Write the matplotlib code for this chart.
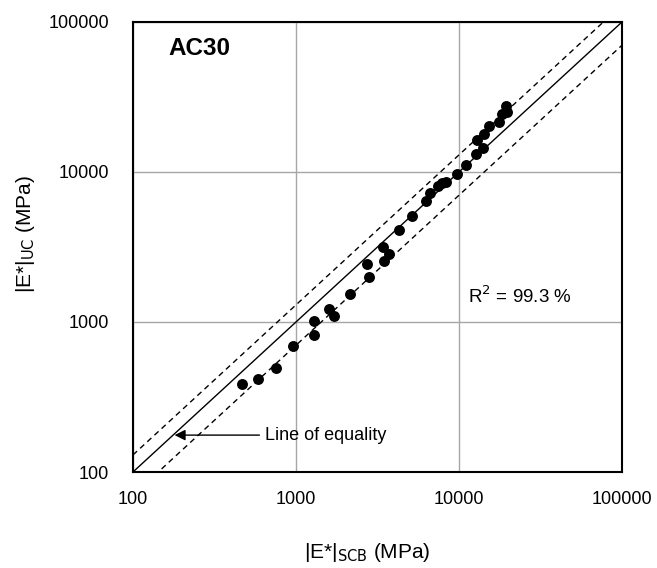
import matplotlib
matplotlib.use("Agg")
import matplotlib.pyplot as plt
import numpy as np

plt.rcParams['font.family'] = ['Liberation Sans Narrow', 'Liberation Sans', 'DejaVu Sans']

# Dynamic modulus: SCB-derived vs uniaxial compression (MPa)
e_scb = [468, 587, 754, 962, 1295, 1295, 1595, 1710, 2160, 2805, 2727, 3480,
         3736, 3432, 4302, 5171, 6248, 6641, 7403, 7834, 8287, 9763, 10990,
         12720, 14100, 12950, 14300, 15350, 17600, 18280, 19620, 19340]
e_uc = [386, 415, 491, 692, 815, 1016, 1221, 1102, 1537, 2004, 2425, 2551,
        2828, 3177, 4106, 5089, 6407, 7211, 8067, 8410, 8536, 9697, 11137,
        13183, 14521, 16345, 17839, 20350, 21640, 24250, 25235, 27540]

axis_ticks = [100, 1000, 10000, 100000]
tick_labels = ["100", "1000", "10000", "100000"]
band = 0.30          # +/- 30 % bounds around the line of equality
r2_text = "R$^2$ = 99.3 %"
mix_name = "AC30"

fig = plt.figure(figsize=(6.57, 5.68), dpi=100)
ax = fig.add_axes([0.2024, 0.169, 0.7443, 0.7923])

ax.set_xscale('log')
ax.set_yscale('log')
ax.set_xlim(100, 100000)
ax.set_ylim(100, 100000)

ax.set_xticks(axis_ticks)
ax.set_xticklabels(tick_labels)
ax.set_yticks(axis_ticks)
ax.set_yticklabels(tick_labels)
ax.minorticks_off()
ax.tick_params(length=0, labelsize=13)
ax.tick_params(axis='x', pad=14)
ax.tick_params(axis='y', pad=17)
ax.grid(True, color='#a6a6a6', linewidth=1.0)
ax.set_axisbelow(True)

for sp in ax.spines.values():
    sp.set_linewidth(1.5)
    sp.set_color('black')

line = np.array([100, 100000])
ax.plot(line, line, color='black', linewidth=1.0)
ax.plot(line, line * (1 + band), color='black', linewidth=1.0, linestyle=(0, (4, 3)))
ax.plot(line, line * (1 - band), color='black', linewidth=1.0, linestyle=(0, (4, 3)))

ax.scatter(e_scb, e_uc, s=62, color='black', zorder=3, linewidths=0)

ax.text(0.072, 0.94, mix_name, transform=ax.transAxes, fontsize=17.5,
        fontweight='bold', va='center', ha='left')
ax.text(0.685, 0.39, r2_text, transform=ax.transAxes, fontsize=13.5,
        va='center', ha='left')

ax.annotate("Line of equality", xy=(0.085, 0.082), xytext=(0.27, 0.082),
            xycoords='axes fraction', textcoords='axes fraction',
            fontsize=13, va='center', ha='left',
            arrowprops=dict(arrowstyle='-|>', color='black', lw=1.0,
                            mutation_scale=16, shrinkA=2, shrinkB=0))

ax.set_xlabel("|E*|$_{\\mathrm{SCB}}$ (MPa)", fontsize=15, va='center')
ax.set_ylabel("|E*|$_{\\mathrm{UC}}$ (MPa)", fontsize=15, va='center')
ax.xaxis.set_label_coords(0.479, -0.178)
ax.yaxis.set_label_coords(-0.219, 0.529)

fig.savefig("out.png", dpi=100)
